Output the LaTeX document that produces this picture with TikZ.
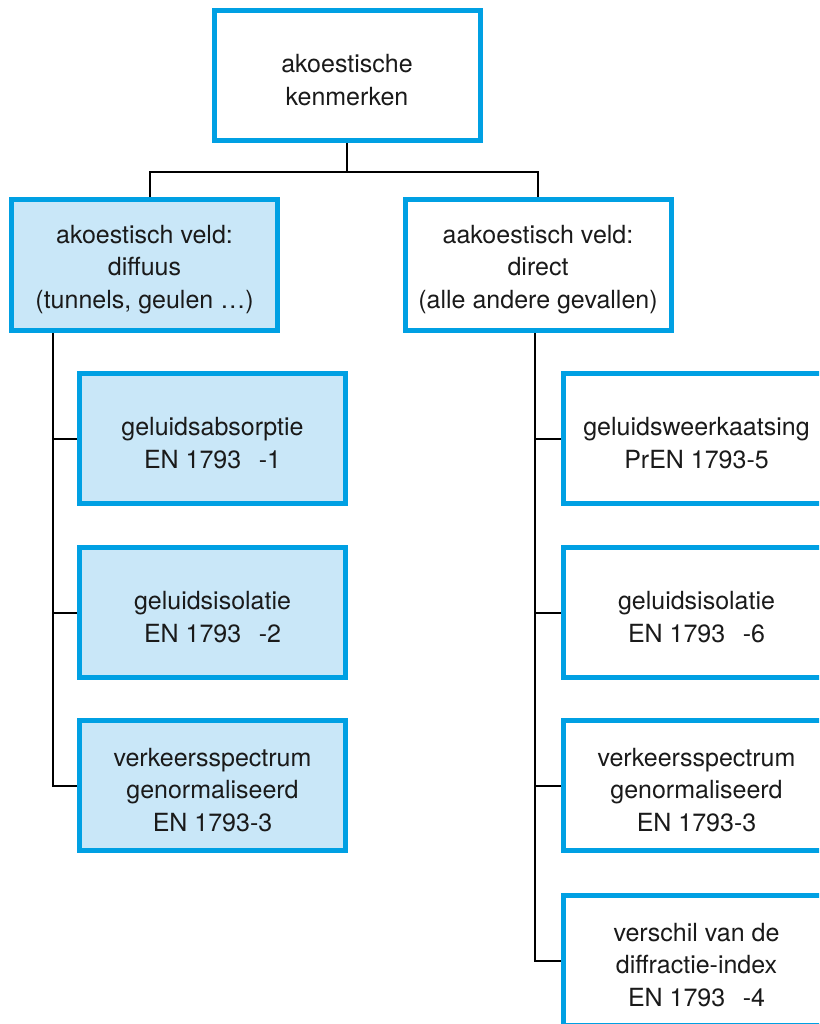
\documentclass[tikz,border=0pt]{standalone}
\usepackage{fontspec}
\setmainfont{TeX Gyre Heros}
\definecolor{cyanline}{HTML}{00A0E3}
\definecolor{lightfill}{HTML}{C9E7F8}
\definecolor{txt}{HTML}{1A1A1A}
\newcommand{\topstrut}{\rule{0pt}{27pt}}
\begin{document}
\begin{tikzpicture}[x=1pt,y=-1pt,
  box/.style={draw=cyanline, line width=5pt, fill=white, minimum width=266pt, minimum height=130.5pt,
    inner sep=0pt, align=center, text=txt, font=\fontsize{25}{32.5}\selectfont},
  filledbox/.style={box, fill=lightfill},
  conn/.style={draw=black, line width=2pt}]
\useasboundingbox (0,0) rectangle (819,1024);
\clip (0,0) rectangle (819,1024);
\fill[white] (0,0) rectangle (819,1024);

\node[box] (top) at (347,75.5) {\topstrut akoestische\\kenmerken};
\node[filledbox] (left) at (144.5,265) {\topstrut akoestisch veld:\\diffuus\\(tunnels, geulen …)};
\node[box] (right) at (538,265) {\topstrut aakoestisch veld:\\direct\\(alle andere gevallen)};

\node[filledbox] (l1) at (212.5,438.5) {\topstrut geluidsabsorptie\\EN 1793\hspace{0.7em}-1};
\node[filledbox] (l2) at (212.5,612.5) {\topstrut geluidsisolatie\\EN 1793\hspace{0.7em}-2};
\node[filledbox] (l3) at (212.5,785.5) {\topstrut verkeersspectrum\\genormaliseerd\\EN 1793-3};

\node[box] (r1) at (696.5,438.5) {\topstrut geluidsweerkaatsing\\PrEN 1793-5};
\node[box] (r2) at (696.5,612.5) {\topstrut geluidsisolatie\\EN 1793\hspace{0.7em}-6};
\node[box] (r3) at (696.5,785.5) {\topstrut verkeersspectrum\\genormaliseerd\\EN 1793-3};
\node[box] (r4) at (696.5,960.5) {\topstrut verschil van de\\diffractie-index\\EN 1793\hspace{0.7em}-4};

% top connectors
\coordinate (j) at (347,172);
\draw[conn] (top.south) -- (j);
\draw[conn] ([xshift=5.5pt]left.north) |- (j) -| (right.north);

% left trunk
\coordinate (lt) at (53,333);
\draw[conn] (lt) |- (l3.west);
\draw[conn] (lt |- l1.west) -- (l1.west);
\draw[conn] (lt |- l2.west) -- (l2.west);

% right trunk
\coordinate (rt) at (535,333);
\draw[conn] (rt) |- (r4.west);
\draw[conn] (rt |- r1.west) -- (r1.west);
\draw[conn] (rt |- r2.west) -- (r2.west);
\draw[conn] (rt |- r3.west) -- (r3.west);
\end{tikzpicture}
\end{document}
